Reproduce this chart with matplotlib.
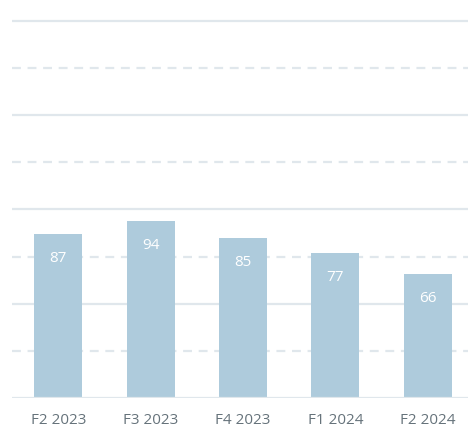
import matplotlib
matplotlib.use("Agg")
import matplotlib.pyplot as plt

# quarterly values
quarters = ["F2 2023", "F3 2023", "F4 2023", "F1 2024", "F2 2024"]
values = [87, 94, 85, 77, 66]

plt.rcParams['font.family'] = ['Open Sans', 'DejaVu Sans']

fig = plt.figure(figsize=(4.68, 4.30), dpi=100)
ax = fig.add_axes([12 / 468, 32 / 430, 1 - 12 / 468, 398 / 430])

grid_col = "#e0e7ec"
for y in [50, 100, 150, 200]:
    ax.axhline(y, color=grid_col, lw=1.6, zorder=0)
for y in [25, 75, 125, 175]:
    ax.axhline(y, color=grid_col, lw=1.6, ls=(0, (4, 3)), zorder=0)
ax.axhline(0, color=grid_col, lw=1.6, zorder=3)

x = range(len(quarters))
bars = ax.bar(x, values, width=0.52, color="#aecbdc", zorder=2)
for xi, v in zip(x, values):
    ax.text(xi, v - 13, str(v), ha="center", va="center", color="white", fontsize=11, zorder=4)

ax.set_xlim(-0.5, 4.435)
ax.set_ylim(0, 211)
ax.set_xticks(list(x))
ax.set_xticklabels(quarters, color="#66737b", fontsize=11)
ax.tick_params(axis="x", length=0, pad=11)
ax.set_yticks([])
for s in ax.spines.values():
    s.set_visible(False)

fig.savefig("out.png", dpi=100)
